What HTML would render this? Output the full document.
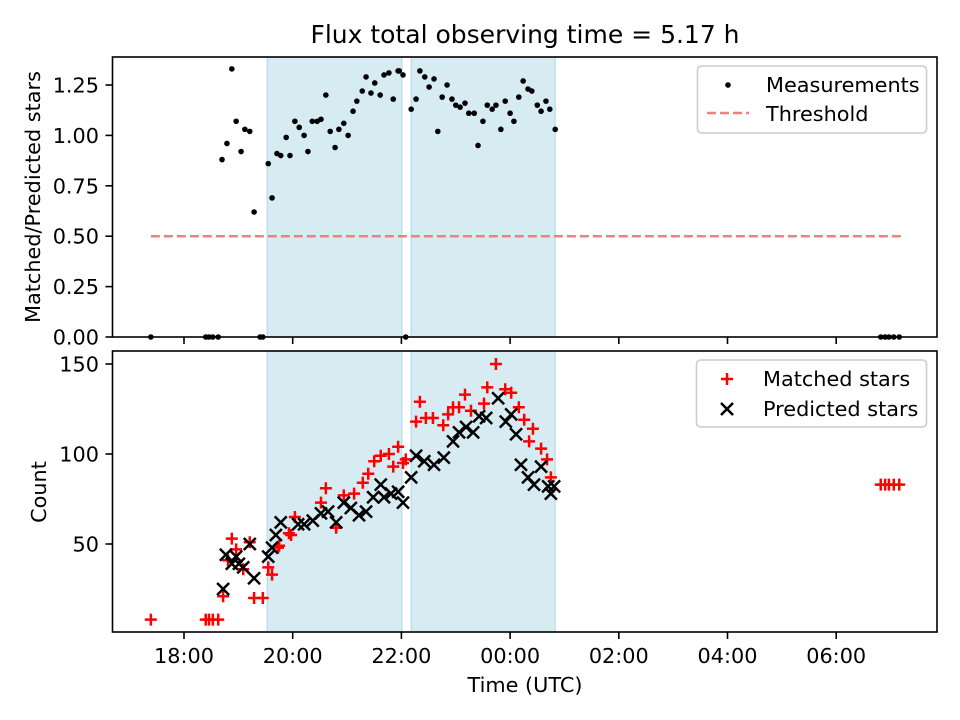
<!DOCTYPE html>
<html><head><meta charset="utf-8"><style>
body{margin:0;background:#fff}
svg{display:block;font-family:"DejaVu Sans","Liberation Sans",sans-serif}
</style></head><body>
<svg id="chart" width="960" height="720" viewBox="0 0 960 720" xmlns="http://www.w3.org/2000/svg"></svg>
<script>
// ---- data ----
const ratioTimes=[17.39,18.40,18.46,18.53,18.63,18.70,18.79,18.88,18.96,19.05,19.12,19.21,19.29,19.40,19.45,19.55,19.62,19.71,19.78,19.88,19.95,20.04,20.12,20.21,20.28,20.36,20.45,20.52,20.61,20.69,20.78,20.85,20.94,21.02,21.11,21.18,21.28,21.35,21.44,21.51,21.61,21.68,21.77,21.85,21.94,21.96,22.03,22.08,22.18,22.27,22.34,22.43,22.51,22.60,22.67,22.75,22.84,22.93,23.00,23.08,23.17,23.24,23.34,23.41,23.50,23.58,23.67,23.74,23.83,23.91,24.00,24.07,24.16,24.24,24.33,24.40,24.50,24.57,24.66,24.73,24.83,30.82,30.90,30.97,31.06,31.16];
const ratioValues=[0,0,0,0,0,0.88,0.96,1.33,1.07,0.92,1.03,1.02,0.62,0,0,0.86,0.69,0.91,0.90,0.99,0.90,1.07,1.04,1.00,0.92,1.07,1.07,1.08,1.20,1.02,0.94,1.03,1.06,1.00,1.12,1.17,1.22,1.29,1.21,1.26,1.20,1.30,1.31,1.18,1.32,1.32,1.30,0,1.13,1.18,1.32,1.29,1.24,1.28,1.02,1.19,1.25,1.18,1.15,1.14,1.16,1.11,1.11,0.95,1.07,1.15,1.13,1.15,1.03,1.17,1.11,1.07,1.19,1.27,1.23,1.22,1.15,1.12,1.17,1.13,1.03,0,0,0,0,0];
const threshold=0.5;
const thresholdRange=[17.39,31.19];
const shadeSpans=[[19.53,22.01],[22.18,24.83]];
const matchedTimes=[17.39,18.40,18.46,18.53,18.63,18.72,18.81,18.88,18.96,19.09,19.21,19.29,19.45,19.55,19.62,19.73,19.75,19.93,19.97,20.04,20.52,20.61,20.80,20.94,21.13,21.29,21.39,21.50,21.62,21.77,21.85,21.94,22.03,22.08,22.27,22.34,22.45,22.58,22.77,22.86,22.95,23.06,23.17,23.28,23.52,23.58,23.74,23.91,24.02,24.16,24.26,24.35,24.42,24.57,24.68,24.75,30.82,30.90,30.97,31.06,31.16];
const matchedValues=[8,8,8,8,8,21,41,53,47,36,51,20,20,37,33,48,49,56,55,65,73,81,59,77,78,84,89,96,99,100,93,104,95,97,118,129,120,120,116,122,126,126,133,124,128,137,150,136,134,126,119,107,114,103,97,87,83,83,83,83,83];
const predictedTimes=[18.72,18.77,18.88,18.96,19.01,19.09,19.21,19.29,19.55,19.62,19.69,19.78,20.10,20.21,20.37,20.52,20.65,20.80,20.94,21.07,21.22,21.35,21.48,21.62,21.68,21.81,21.94,22.03,22.18,22.27,22.42,22.60,22.78,22.95,23.06,23.19,23.32,23.43,23.56,23.78,23.92,24.02,24.11,24.20,24.33,24.44,24.57,24.70,24.75,24.81];
const predictedValues=[25,44,39,43,39,37,50,31,43,48,55,62,61,61,63,67,68,62,73,70,66,68,76,83,76,78,79,73,87,99,96,94,98,107,112,115,112,121,120,131,118,122,111,94,87,83,93,82,78,82];
const xTickHours=[18,20,22,24,26,28,30];
const xTickLabels=["18:00","20:00","22:00","00:00","02:00","04:00","06:00"];
const ratioTicks=[0,0.25,0.5,0.75,1.0,1.25];
const ratioTickLabels=["0.00","0.25","0.50","0.75","1.00","1.25"];
const countTicks=[50,100,150];
const countTickLabels=["50","100","150"];

// ---- geometry ----
const L=112.5,R=937,T1=57,B1=337,T2=351,B2=632;
const FS=20.8;
const xs=h=>184+(h-18)*54.35;
const y1=v=>337-v*201.6;
const y2=v=>634-v*1.8;
const svg=document.getElementById('chart');
const NS='http://www.w3.org/2000/svg';
function mk(tag,at,parent){const e=document.createElementNS(NS,tag);for(const k in at)e.setAttribute(k,at[k]);(parent||svg).appendChild(e);return e;}
function txt(s,at,parent){const e=mk('text',at,parent);e.textContent=s;return e;}

const ti=txt('Flux total observing time = 5.17 h',{x:525,y:43,'text-anchor':'middle','font-size':25,fill:'#000'});



function panel(top,bot,name){
  const g=mk('g',{});
  
  
  mk('rect',{x:L,y:top,width:R-L,height:bot-top,fill:'#fff'},g);
  for(const s of shadeSpans){
    const r=mk('rect',{x:xs(s[0]),y:top,width:xs(s[1])-xs(s[0]),height:bot-top,fill:'#add8e6','fill-opacity':0.5,stroke:'#add8e6','stroke-width':1},g);
    
    
  }
  return g;
}
const g1=panel(T1,B1,'ratio-panel');
const g2=panel(T2,B2,'count-panel');

const th=mk('line',{x1:xs(thresholdRange[0]),x2:xs(thresholdRange[1]),y1:y1(threshold),y2:y1(threshold),stroke:'#f08080','stroke-width':2.5,'stroke-dasharray':'9,4'},g1);



ratioTimes.forEach((t,i)=>{
  const c=mk('circle',{cx:xs(t),cy:y1(ratioValues[i]),r:2.8,fill:'#000'},g1);
  
  
});
matchedTimes.forEach((t,i)=>{
  const x=xs(t),y=y2(matchedValues[i]);
  const p=mk('path',{d:`M${x-6},${y}H${x+6}M${x},${y-6}V${y+6}`,stroke:'#f00','stroke-width':2.5},g2);
  
  
});
predictedTimes.forEach((t,i)=>{
  const x=xs(t),y=y2(predictedValues[i]);
  const p=mk('path',{d:`M${x-6},${y-6}L${x+6},${y+6}M${x-6},${y+6}L${x+6},${y-6}`,stroke:'#000','stroke-width':2.5},g2);
  
  
});

for(const [top,bot,g] of [[T1,B1,g1],[T2,B2,g2]]){
  const f=mk('rect',{x:L,y:top,width:R-L,height:bot-top,fill:'none',stroke:'#000','stroke-width':1.6},g);
  
  
  xTickHours.forEach(h=>{mk('line',{x1:xs(h),x2:xs(h),y1:bot,y2:bot+7,stroke:'#000','stroke-width':1.6},g);});
}
xTickHours.forEach((h,i)=>{
  const e=txt(xTickLabels[i],{x:xs(h),y:663,'text-anchor':'middle','font-size':FS});
  
  
});
ratioTicks.forEach((v,i)=>{
  mk('line',{x1:L-7,x2:L,y1:y1(v),y2:y1(v),stroke:'#000','stroke-width':1.6},g1);
  const e=txt(ratioTickLabels[i],{x:99,y:y1(v)+7.5,'text-anchor':'end','font-size':FS});
  
  
});
countTicks.forEach((v,i)=>{
  mk('line',{x1:L-7,x2:L,y1:y2(v),y2:y2(v),stroke:'#000','stroke-width':1.6},g2);
  const e=txt(countTickLabels[i],{x:99,y:y2(v)+7.5,'text-anchor':'end','font-size':FS});
  
  
});
const xl=txt('Time (UTC)',{x:525,y:692,'text-anchor':'middle','font-size':FS});


const yl1=txt('Matched/Predicted stars',{x:0,y:0,'text-anchor':'middle','font-size':FS,transform:'translate(40,197) rotate(-90)'});


const yl2=txt('Count',{x:0,y:0,'text-anchor':'middle','font-size':FS,transform:'translate(46,492) rotate(-90)'});



const lg1=mk('g',{});


mk('rect',{x:697.5,y:66,width:229,height:67,rx:4,fill:'#fff','fill-opacity':0.8,stroke:'#ccc','stroke-width':1.6},lg1);
mk('circle',{cx:728,cy:85,r:2.8,fill:'#000'},lg1);
txt('Measurements',{x:766,y:92,'font-size':FS},lg1);
mk('line',{x1:707,x2:749,y1:113,y2:113,stroke:'#f08080','stroke-width':2.5,'stroke-dasharray':'9,4'},lg1);
txt('Threshold',{x:766,y:121,'font-size':FS},lg1);
const lg2=mk('g',{});


mk('rect',{x:696.5,y:360,width:230,height:67,rx:4,fill:'#fff','fill-opacity':0.8,stroke:'#ccc','stroke-width':1.6},lg2);
mk('path',{d:'M721,379H733M727,373V385',stroke:'#f00','stroke-width':2.5},lg2);
txt('Matched stars',{x:763,y:386,'font-size':FS},lg2);
mk('path',{d:'M721,403L733,415M721,415L733,403',stroke:'#000','stroke-width':2.5},lg2);
txt('Predicted stars',{x:763,y:416,'font-size':FS},lg2);
</script>
</body></html>
